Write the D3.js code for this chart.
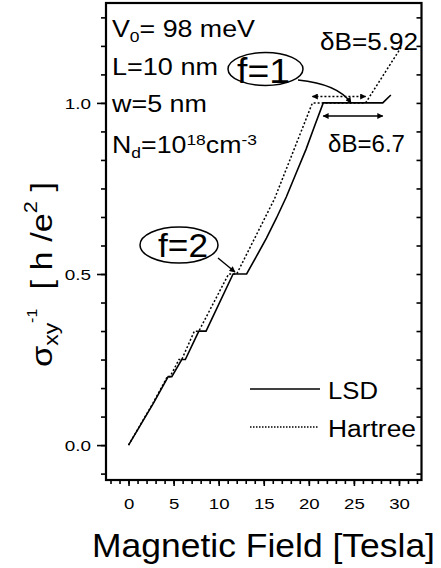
<!DOCTYPE html>
<html><head><meta charset="utf-8">
<script src="https://cdn.jsdelivr.net/npm/d3@7"></script>
<style>
html,body{margin:0;padding:0;background:#fff;}
svg text{font-family:"Liberation Sans",Arial,Helvetica,sans-serif;fill:#000;white-space:pre;}
</style></head>
<body>
<svg id="c" width="441" height="568"></svg>
<script>
// ---- data ----
const lsdB  = [0, 2.75, 4.4, 4.8, 5.9, 6.3, 7.8, 8.6, 11.6, 13.1, 14.2, 15.3, 16.4, 17.5, 18.6, 19.7, 20.65, 21.6, 28.2, 29.1];
const lsdV  = [0, 0.122, 0.2, 0.2, 0.25, 0.25, 0.333, 0.333, 0.5, 0.5, 0.552, 0.605, 0.663, 0.725, 0.795, 0.865, 0.933, 1.0, 1.0, 1.023];
const hartB = [0, 2.7, 4.3, 4.6, 5.6, 5.9, 7.3, 7.8, 11.1, 12.0, 16.2, 20.4, 26.3, 30.3];
const hartV = [0, 0.122, 0.2, 0.2, 0.25, 0.25, 0.333, 0.333, 0.5, 0.5, 0.72, 1.0, 1.0, 1.165];
const xMajor = [0, 5, 10, 15, 20, 25, 30];
const xMinor = d3.range(-2, 33, 1);
const yMajor = [0.0, 0.5, 1.0];
const yMinor = d3.range(-1, 16).map(k => k / 12);
const seriesNames = ["LSD", "Hartree"];

const svg = d3.select("#c");
const L = 106, R = 421.5, T = 3, B = 480;
const x = d3.scaleLinear().domain([-2.5, 32.5]).range([L, R]);
const y = d3.scaleLinear().domain([-0.102, 1.292]).range([B, T]);

// helper: rich text with sub/superscripts, stretched to a target width
function richText(parent, px, py, parts, size, width, anchor, rot) {
  const t = parent.append("text").attr("font-size", size).attr("text-anchor", anchor || "start");
  let cur = 0;
  parts.forEach(p => {
    const off = p.off || 0;
    t.append("tspan").attr("font-size", p.s || size).attr("dy", off - cur).text(p.t);
    cur = off;
  });
  const w = t.node().getComputedTextLength();
  const s = width ? width / w : 1;
  t.attr("transform", `translate(${px},${py}) rotate(${rot || 0}) scale(${s},1)`);
  return t;
}

// arrow markers
const defs = svg.append("defs");
defs.append("marker").attr("id", "ah").attr("viewBox", "0 0 10 10").attr("refX", 9).attr("refY", 5)
  .attr("markerWidth", 8).attr("markerHeight", 6).attr("markerUnits", "userSpaceOnUse")
  .attr("orient", "auto-start-reverse")
  .append("path").attr("d", "M0,0 L10,5 L0,10 z").attr("fill", "#000");

// axes ticks
const gx = svg.append("g").attr("transform", `translate(0,${B})`);
gx.call(d3.axisBottom(x).tickValues(xMinor).tickSize(4).tickFormat(""));
gx.append("g").call(d3.axisBottom(x).tickValues(xMajor).tickSize(6).tickFormat(d3.format("d")));
gx.selectAll("path.domain").remove();
gx.selectAll("line").attr("stroke", "#000").attr("stroke-width", 1.6);
gx.selectAll("text").attr("font-size", 15.5).attr("y", 0).attr("dy", 29)
  .attr("font-family", '"Liberation Sans",Arial,sans-serif').attr("fill", "#000")
  .attr("transform", "scale(1.2,1)");

const gy = svg.append("g").attr("transform", `translate(${L},0)`);
gy.call(d3.axisLeft(y).tickValues(yMinor).tickSize(5).tickFormat(""));
gy.append("g").call(d3.axisLeft(y).tickValues(yMajor).tickSize(9).tickFormat(d3.format(".1f")));
gy.selectAll("path.domain").remove();
gy.selectAll("line").attr("stroke", "#000").attr("stroke-width", 1.6);
gy.selectAll("text").attr("font-size", 15.5).attr("x", -15 / 1.22).attr("dy", "0.36em")
  .attr("font-family", '"Liberation Sans",Arial,sans-serif').attr("fill", "#000")
  .attr("transform", "scale(1.22,1)");

const gr = svg.append("g").attr("transform", `translate(${R},0)`);
gr.call(d3.axisLeft(y).tickValues(yMinor).tickSize(-5).tickFormat(""));
gr.selectAll("path.domain").remove();
gr.selectAll("line").attr("stroke", "#000").attr("stroke-width", 1.6).attr("x2", -5);

// frame
svg.append("rect").attr("x", L).attr("y", T).attr("width", R - L).attr("height", B - T)
  .attr("fill", "none").attr("stroke", "#000").attr("stroke-width", 2.2);

// curves
const line = d3.line().x(d => x(d[0])).y(d => y(d[1]));
svg.append("path").datum(lsdB.map((b, i) => [b, lsdV[i]])).attr("d", line)
  .attr("fill", "none").attr("stroke", "#000").attr("stroke-width", 1.6);
svg.append("path").datum(hartB.map((b, i) => [b, hartV[i]])).attr("d", line)
  .attr("fill", "none").attr("stroke", "#000").attr("stroke-width", 1.5).attr("stroke-dasharray", "2,2");

// parameter text
richText(svg, 112, 37, [{t: "V"}, {t: "0", s: 15, off: 5}, {t: "= 98 meV", off: 0}], 23, 143);
richText(svg, 112, 75, [{t: "L=10 nm"}], 23, 106);
richText(svg, 112, 112, [{t: "w=5 nm"}], 23, 95);
richText(svg, 112, 153, [{t: "N"}, {t: "d", s: 15, off: 5}, {t: "=10", off: 0}, {t: "18", s: 15, off: -8},
  {t: "cm", off: 0}, {t: "-3", s: 15, off: -8}], 23, 145);

// f=1 annotation
svg.append("ellipse").attr("cx", 265.5).attr("cy", 69).attr("rx", 37.5).attr("ry", 16.5)
  .attr("fill", "none").attr("stroke", "#000").attr("stroke-width", 1.5);
richText(svg, 263.5, 83, [{t: "f=1"}], 35, 53, "middle");
svg.append("path").attr("d", "M298,80 Q338,84 351,103").attr("fill", "none")
  .attr("stroke", "#000").attr("stroke-width", 1.4).attr("marker-end", "url(#ah)");

// delta B arrows
richText(svg, 320, 50, [{t: "δB=5.92"}], 23, 98);
svg.append("line").attr("x1", x(20.4)).attr("x2", x(26.3)).attr("y1", 96.5).attr("y2", 96.5)
  .attr("stroke", "#000").attr("stroke-width", 1.4).attr("stroke-dasharray", "2,2")
  .attr("marker-start", "url(#ah)").attr("marker-end", "url(#ah)");
svg.append("line").attr("x1", x(21.6)).attr("x2", x(28.2)).attr("y1", 116).attr("y2", 116)
  .attr("stroke", "#000").attr("stroke-width", 1.4)
  .attr("marker-start", "url(#ah)").attr("marker-end", "url(#ah)");
richText(svg, 328, 152, [{t: "δB=6.7"}], 23, 77);

// f=2 annotation
svg.append("ellipse").attr("cx", 179).attr("cy", 245).attr("rx", 39).attr("ry", 18)
  .attr("fill", "none").attr("stroke", "#000").attr("stroke-width", 1.5);
richText(svg, 183, 257, [{t: "f=2"}], 34, 50, "middle");
svg.append("line").attr("x1", 218).attr("y1", 258).attr("x2", 235).attr("y2", 272)
  .attr("stroke", "#000").attr("stroke-width", 1.4).attr("marker-end", "url(#ah)");

// legend
svg.append("line").attr("x1", 250).attr("x2", 320).attr("y1", 389).attr("y2", 389)
  .attr("stroke", "#000").attr("stroke-width", 1.6);
richText(svg, 328, 399, [{t: seriesNames[0]}], 23, 50);
svg.append("line").attr("x1", 250).attr("x2", 318).attr("y1", 427).attr("y2", 427)
  .attr("stroke", "#000").attr("stroke-width", 1.5).attr("stroke-dasharray", "1.5,1.5");
richText(svg, 328, 437, [{t: seriesNames[1]}], 23, 88);

// axis titles
richText(svg, 263.5, 557, [{t: "Magnetic Field [Tesla]"}], 34, 343, "middle");
richText(svg, 52, 274.5, [{t: "σ"}, {t: "xy", s: 20, off: 6}, {t: "-1", s: 14, off: -15},
  {t: "  [ h /e", off: 0}, {t: "2", s: 19, off: -15}, {t: " ]", off: 0}], 30, 185, "middle", -90);
</script>
</body></html>
